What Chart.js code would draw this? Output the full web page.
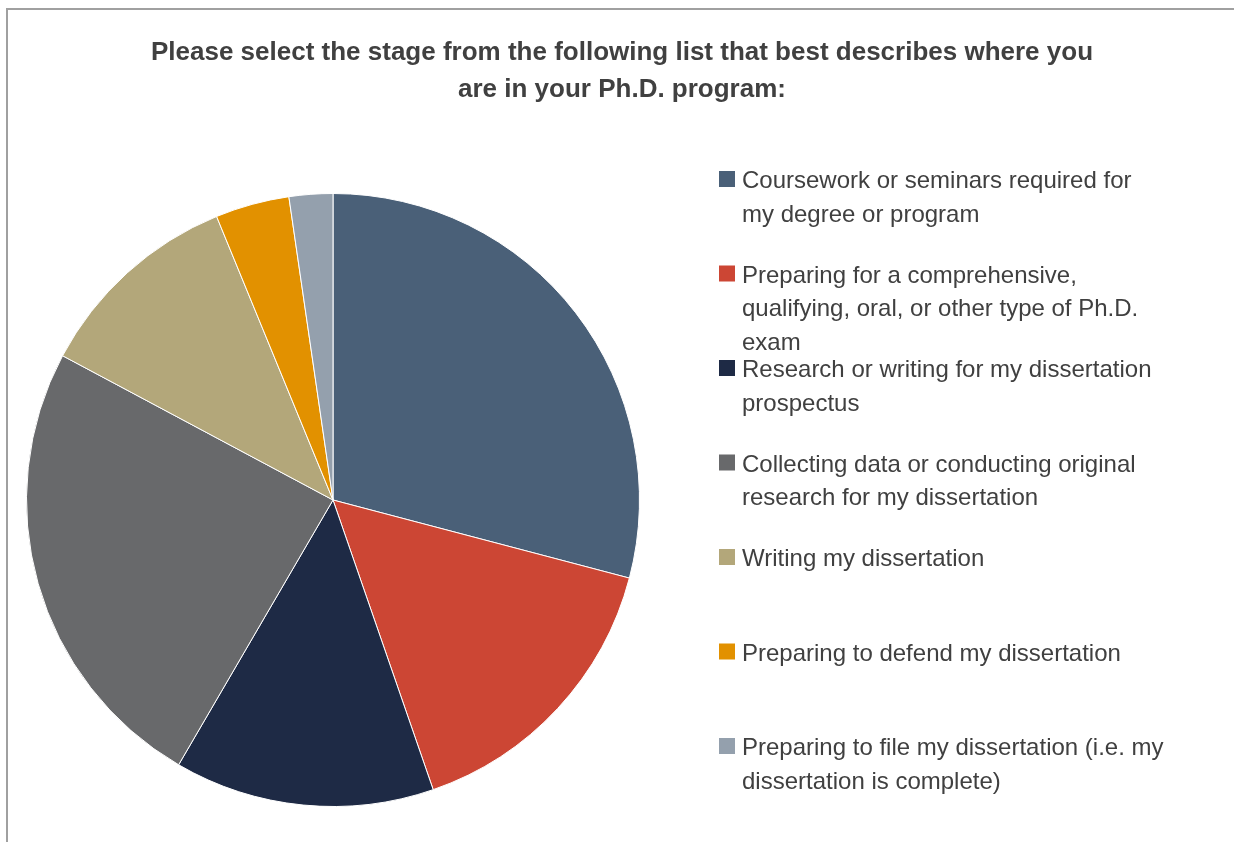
<!DOCTYPE html>
<html>
<head>
<meta charset="utf-8">
<script src="https://cdn.jsdelivr.net/npm/chart.js@4"></script>
<style>
  html, body { margin: 0; padding: 0; background: #fff; }
  #wrap { width: 1234px; height: 842px; }
</style>
</head>
<body>
<div id="wrap"><canvas id="chartstage" width="1234" height="842"></canvas></div>
<script>
// Data
var titleLines = ['Please select the stage from the following list that best describes where you', 'are in your Ph.D. program:'];
var stages = [
    ['Coursework or seminars required for', 'my degree or program'],
    ['Preparing for a comprehensive,', 'qualifying, oral, or other type of Ph.D.', 'exam'],
    ['Research or writing for my dissertation', 'prospectus'],
    ['Collecting data or conducting original', 'research for my dissertation'],
    ['Writing my dissertation'],
    ['Preparing to defend my dissertation'],
    ['Preparing to file my dissertation (i.e. my', 'dissertation is complete)']
];
var shares = [29.1, 15.6, 13.7, 24.4, 11.0, 3.9, 2.3];
var colors = ['#4a6078', '#cc4634', '#1e2a45', '#68696b', '#b3a77a', '#e29100', '#94a0ad'];

var textFont = '"Liberation Sans", Arial, sans-serif';

// frame, title and legend drawn on the canvas
var decor = {
    id: 'decor',
    beforeDraw: function (chart) {
        var ctx = chart.ctx;
        ctx.save();
        ctx.strokeStyle = '#a0a0a0';
        ctx.lineWidth = 2;
        ctx.beginPath();
        ctx.moveTo(7, 842);
        ctx.lineTo(7, 9);
        ctx.lineTo(1234, 9);
        ctx.stroke();
        ctx.restore();
    },
    afterDraw: function (chart) {
        var ctx = chart.ctx;
        ctx.save();
        ctx.fillStyle = '#404040';
        ctx.textAlign = 'center';
        ctx.textBaseline = 'alphabetic';
        ctx.font = 'bold 26px ' + textFont;
        titleLines.forEach(function (t, i) {
            ctx.fillText(t, 622, 60 + i * 37);
        });

        ctx.textAlign = 'left';
        ctx.font = '24px ' + textFont;
        var lbls = chart.data.labels;
        var bg = chart.data.datasets[0].backgroundColor;
        for (var i = 0; i < lbls.length; i++) {
            var y0 = 171 + i * 94.5;
            ctx.fillStyle = bg[i];
            ctx.fillRect(719, y0, 16, 16);
            ctx.fillStyle = '#404040';
            lbls[i].forEach(function (line, j) {
                ctx.fillText(line, 742, y0 + 17 + j * 33.5);
            });
        }
        ctx.restore();
    }
};

var ctxPie = document.getElementById('chartstage').getContext('2d');
var pieChart = new Chart(ctxPie, {
    type: 'pie',
    data: {
        labels: stages,
        datasets: [{
            data: shares,
            backgroundColor: colors,
            borderColor: '#ffffff',
            borderWidth: 1
        }]
    },
    options: {
        responsive: false,
        animation: false,
        layout: { padding: { left: 26, right: 594, top: 193, bottom: 35 } },
        plugins: {
            legend: { display: false },
            title: { display: false },
            tooltip: { enabled: false }
        }
    },
    plugins: [decor]
});
</script>
</body>
</html>
